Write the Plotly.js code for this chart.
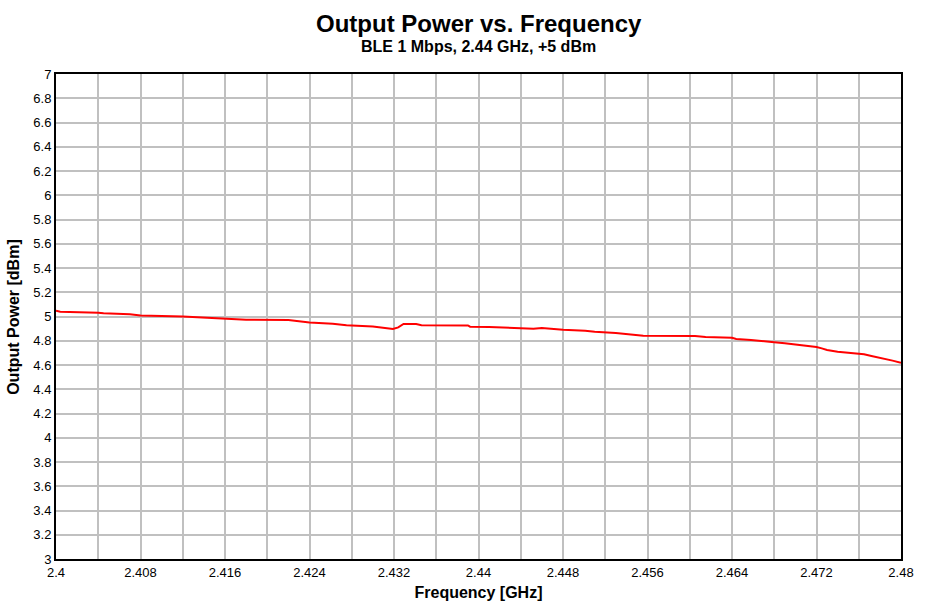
<!DOCTYPE html>
<html>
<head>
<meta charset="utf-8">
<script src="https://cdn.plot.ly/plotly-3.0.1.min.js"></script>
<style>
  html, body { margin: 0; padding: 0; background: #fff; }
  #chart { width: 931px; height: 611px; }
</style>
</head>
<body>
<div id="chart"></div>
<script>
  // 输出功率随频率变化（从图上读出的点）
  var freqGHz = [
    2.4000, 2.4004, 2.4040, 2.4045, 2.4070, 2.4080, 2.4120, 2.4140, 2.4160, 2.4180,
    2.4220, 2.4230, 2.4240, 2.4262, 2.4275, 2.4300, 2.4312, 2.4319, 2.4324, 2.4329,
    2.4341, 2.4346, 2.4390, 2.4392, 2.4410, 2.4431, 2.4452, 2.4460, 2.4470, 2.4480,
    2.4501, 2.4510, 2.4530, 2.4540, 2.4550, 2.4556, 2.4605, 2.4615, 2.4640, 2.4644,
    2.4658, 2.4665, 2.4680, 2.4690, 2.4700, 2.4710, 2.4720, 2.4725, 2.4730, 2.4740,
    2.4750, 2.4760, 2.4765, 2.4772, 2.4778, 2.4785, 2.4792, 2.4800
  ];
  var powerDbm = [
    5.048, 5.040, 5.030, 5.026, 5.018, 5.008, 5.000, 4.990, 4.982, 4.974,
    4.972, 4.962, 4.950, 4.940, 4.928, 4.918, 4.905, 4.897, 4.910, 4.938,
    4.938, 4.928, 4.926, 4.916, 4.914, 4.906, 4.899, 4.906, 4.898, 4.890,
    4.882, 4.874, 4.864, 4.856, 4.850, 4.842, 4.840, 4.830, 4.824, 4.815,
    4.806, 4.798, 4.787, 4.779, 4.768, 4.760, 4.748, 4.737, 4.724, 4.710,
    4.702, 4.696, 4.688, 4.674, 4.663, 4.652, 4.636, 4.618
  ];
  var chartTitle = "Output Power vs. Frequency";
  var chartSub = "BLE 1 Mbps, 2.44 GHz, +5 dBm";
  var yTitle = "Output Power [dBm]";

  var FONT = "Liberation Sans, Arial, sans-serif";
  var GRID = "#c0c0c0";

  // 标题与 y 轴标题都用注释放置（位置更可控）
  Plotly.newPlot("chart", [{
    x: freqGHz, y: powerDbm, mode: "lines",
    line: { color: "#ff0000", width: 2 },
    hoverinfo: "skip"
  }], {
    width: 931, height: 611, autosize: false,
    paper_bgcolor: "#ffffff", plot_bgcolor: "#ffffff",
    margin: { l: 56, r: 30, t: 74, b: 52 },
    font: { family: FONT, color: "#000" },
    showlegend: false,
    annotations: [
      { text: "<b>" + chartTitle + "</b>", xref: "paper", yref: "paper", x: 0.5, y: 1.104,
        xanchor: "center", yanchor: "middle", showarrow: false,
        font: { size: 24, family: FONT, color: "#000" } },
      { text: "<b>" + chartSub + "</b>", xref: "paper", yref: "paper", x: 0.5, y: 1.056,
        xanchor: "center", yanchor: "middle", showarrow: false,
        font: { size: 16, family: FONT, color: "#000" } },
      { text: "<b>" + yTitle + "</b>", xref: "paper", yref: "paper", x: -0.0505, y: 0.5,
        xanchor: "center", yanchor: "middle", textangle: -90, showarrow: false,
        font: { size: 16, family: FONT, color: "#000" } }
    ],
    xaxis: {
      range: [2.4, 2.48], dtick: 0.008, tick0: 2.4, tickformat: "~g",
      showgrid: true, gridcolor: GRID, gridwidth: 2,
      minor: { dtick: 0.004, showgrid: true, gridcolor: GRID, gridwidth: 2 },
      zeroline: false, showline: true, mirror: true, linecolor: "#000", linewidth: 2,
      ticks: "", tickfont: { size: 13, family: FONT, color: "#000" },
      title: { text: "<b>Frequency [GHz]</b>", font: { size: 16, family: FONT, color: "#000" }, standoff: 8 }
    },
    yaxis: {
      range: [3, 7], dtick: 0.2, tick0: 3, tickformat: "~g",
      showgrid: true, gridcolor: GRID, gridwidth: 2,
      zeroline: false, showline: true, mirror: true, linecolor: "#000", linewidth: 2,
      ticks: "", tickfont: { size: 13, family: FONT, color: "#000" }
    }
  }, { displayModeBar: false, staticPlot: true });
</script>
</body>
</html>
